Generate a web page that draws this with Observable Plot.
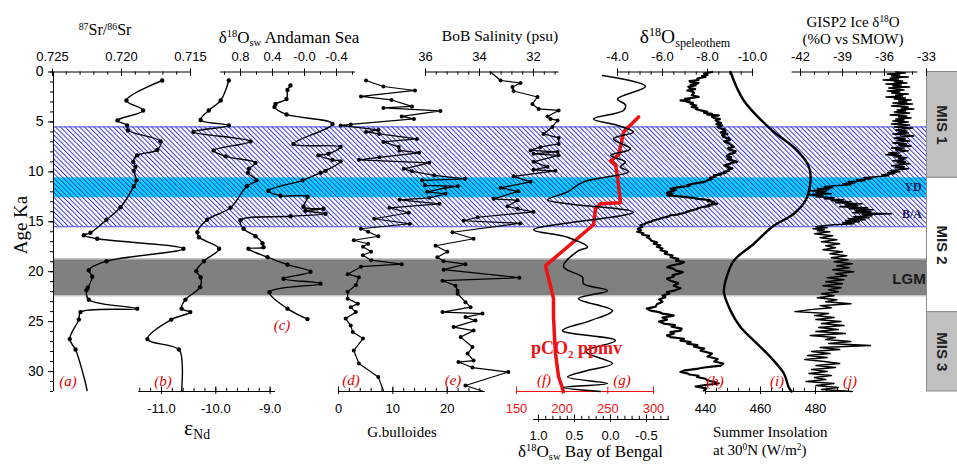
<!DOCTYPE html>
<html><head><meta charset="utf-8">
<script src="https://cdn.jsdelivr.net/npm/d3@7"></script>
<script src="https://cdn.jsdelivr.net/npm/@observablehq/plot@0.6"></script>
<style>
html,body{margin:0;padding:0;background:#fff;}
#wrap{position:relative;width:957px;height:466px;overflow:hidden;background:#fff;}
#wrap > svg{position:absolute;left:0;top:0;}
.t{position:absolute;white-space:nowrap;font-family:"Liberation Serif","Times New Roman",serif;color:#000;line-height:1;}
.t sup{font-size:0.62em;vertical-align:0;position:relative;top:-0.55em;}
.t sub{font-size:0.62em;vertical-align:0;position:relative;top:0.32em;}
.pl{color:#e00000;font-style:italic;}
</style></head><body>
<div id="wrap">
<svg width="0" height="0" style="position:absolute"><defs>
<pattern id="hatch" patternUnits="userSpaceOnUse" width="3.4" height="3.4" patternTransform="rotate(-45)"><rect x="0" y="0" width="1" height="3.4" fill="#3838d0"/></pattern>
</defs></svg>
</div>
<script>
// ---------- DATA ----------
const hatchBand = [5.5, 15.5];
const ydBand = [10.6, 12.6];
const lgmBand = [18.7, 22.4];
const misName = ["MIS 1", "MIS 2", "MIS 3"];
const misTop = [0, 10.6, 24.05];
const misBot = [10.6, 24.05, 32];
const misFill = ["#c0c0c0", "#ffffff", "#c0c0c0"];
const yMajor = [0, 5, 10, 15, 20, 25, 30];

// (a) 87Sr/86Sr
const srAge = [0.85,2.85,3.85,4.85,5.35,5.85,6.95,7.8,8.35,9.0,9.5,9.9,10.85,11.45,13.55,14.8,16.1,16.35,16.7,17.7,18.95,19.85,20.5,21.6,21.85,22.8,23.7,24.05,24.8,26.75,27.8,30.5,31.9];
const srVal = [0.71705,0.71964,0.71843,0.72029,0.71959,0.71954,0.71717,0.71741,0.71886,0.71915,0.71899,0.71911,0.71891,0.71911,0.72007,0.72109,0.72225,0.72273,0.72176,0.71551,0.72109,0.72237,0.72212,0.72244,0.72254,0.72237,0.71886,0.72297,0.72309,0.72375,0.72333,0.72273,0.72249];
const srTicks = [0.725, 0.720, 0.715];

// (b) eNd
const ndAge = [0.85,2.85,3.85,4.8,5.35,6.0,6.95,7.85,8.45,9.1,9.7,10.1,10.85,11.45,13.6,14.8,16.05,16.55,17.7,18.95,19.95,20.55,21.55,22.8,23.7,24.05,24.8,26.75,27.8,29.2,32];
const ndVal = [-9.76,-9.91,-10.13,-10.28,-9.76,-10.41,-9.36,-10.04,-9.82,-9.27,-9.39,-9.41,-9.25,-9.43,-9.73,-10.16,-10.34,-10.31,-9.94,-10.22,-10.36,-10.28,-10.29,-10.56,-10.63,-10.47,-10.82,-11.26,-10.68,-10.62,-10.63];
const ndTicks = [-11, -10, -9];

// (c) d18Osw Andaman Sea
const cAge = [1.35,1.8,2.7,3.2,3.5,4.25,5.2,7.2,7.5,8.2,8.35,8.8,8.95,9.9,10.1,10.85,11.9,12.4,12.5,13.5,13.7,13.9,14.2,14.45,14.85,15.7,16.45,17.15,17.55,17.7,18.55,19.3,20.0,20.7,21.2,22.05,23.7,24.75];
const cVal = [0.175,0.2125,0.225,0.3625,0.375,0.225,-0.35,0.1375,-0.45,-0.3,-0.175,-0.35,-0.45,-0.2625,-0.2,0.025,0.45,0.3,-0.0375,0.0125,-0.2375,-0.0125,-0.2625,0.175,0.8,0.7625,0.6125,0.525,0.5125,0.7,0.4625,0.2125,-0.075,0.2625,-0.2,0.4375,0.2125,-0.0375];
const cTicks = [0.8, 0.4, 0.0, -0.4];
const cTickLabels = ["0.8", "0.4", "-0.0", "-0.4"];

// (d) G.bulloides
const dAge = [0.85,1.45,1.85,2.45,2.8,3.45,3.6,3.9,4.45,4.7,5.25,5.35,5.8,6.0,6.2,6.7,7.0,7.5,7.85,8.1,8.55,8.8,9.1,9.7,9.95,10.35,10.7,10.85,11.35,11.45,11.6,12.0,12.2,12.6,12.8,13.2,13.6,14.1,14.7,15.2,15.7,16.0,16.45,16.85,17.2,17.5,18.0,18.35,18.85,19.25,19.5,20.25,20.55,21.35,22.0,22.7,23.2,23.55,24.05,24.7,25.4,26.05,26.7,27.9,29.2,30.55,31.9];
const dVal = [5.07,8.26,14.07,4.13,9.76,13.51,8.26,18.76,11.63,13.88,2.25,0.4,7.32,5.07,7.50,14.45,8.26,11.07,11.26,14.82,7.50,3.75,16.70,12.01,13.51,17.64,23.26,15.38,15.95,21.95,19.70,16.32,19.70,16.70,11.26,18.57,9.38,12.95,6.57,13.13,4.13,5.44,7.32,2.81,5.44,4.50,6.00,4.50,6.00,11.63,4.13,1.69,3.75,3.19,1.69,1.69,3.56,2.25,3.19,1.31,2.25,2.63,4.50,2.81,3.75,7.32,8.26];
const dTicks = [0, 10, 20];

// (e) BoB salinity
const eAge = [0,0.85,1.1,1.5,1.9,2.5,3.2,3.7,3.85,4.45,4.7,4.85,5.5,6.2,6.6,7.2,7.5,7.85,8.0,8.2,8.35,9.0,9.5,9.8,9.9,10.45,11.0,11.6,11.95,12.7,12.85,13.45,13.7,14.0,14.55,14.9,15.15,16.05,16.7,17.4,18.0,18.55,18.95,19.25,19.8,20.6,20.9,21.4,21.9,22.2,23.05,23.55,24.05,24.2,24.55,24.9,25.55,25.9,26.55,27.55,28.2,28.9,29.05,29.6,30.05,31.4,32];
const eVal = [33.59,33.22,32.48,32.78,32.74,31.85,32.04,31.81,31.07,31.48,31.37,31.11,31.30,31.63,31.07,31.07,31.74,32.11,31.11,32.0,31.07,32.0,31.48,32.0,31.19,32.74,32.11,33.22,32.56,33.48,32.59,32.96,32.59,32.0,34.07,34.59,32.48,35.0,34.22,35.63,35.19,35.56,35.33,34.52,35.33,32.52,35.37,34.89,34.81,34.81,34.52,34.33,35.37,33.89,34.52,34.15,34.96,34.22,34.70,34.26,34.44,34.22,34.78,34.26,32.93,34.52,33.85];
const eTicks = [36, 34, 32];

// (f) pCO2 ppmv
const co2Age = [4.5,6.0,7.0,8.3,8.9,9.3,10.5,13.1,13.2,13.7,15.3,19.4,22.7,24.4,26.5,28.2,30.5,32];
const co2Val = [283.6,267.2,265.0,261.7,253.0,258.4,260.6,263.9,242.0,236.5,234.3,181.8,190.5,190.5,191.6,192.7,196.0,201.5];
const co2Ticks = [150, 200, 250, 300];

// (g) d18Osw Bay of Bengal
const gAge = [0.35,1.45,2.7,3.3,3.85,4.7,5.35,6.0,6.7,7.7,8.35,9.0,9.5,10.0,11.0,12.0,12.8,13.2,14.05,15.8,16.55,17.55,17.9,19.5,20.55,21.2,21.9,22.7,23.9,24.9,25.9,26.9,28.0,29.2,29.9,30.55,31.2,31.6,32];
const gVal = [0.111,-0.486,-0.097,-0.208,-0.181,0.236,-0.097,-0.319,-0.042,-0.278,0.0,-0.208,-0.139,-0.25,0.375,0.597,0.875,0.597,-0.319,1.069,0.597,0.319,0.444,0.653,0.389,0.375,0.042,0.444,-0.028,0.278,0.667,-0.069,0.347,-0.028,0.319,0.597,0.042,0.653,0.139];
const gTicks = [1.0, 0.5, 0.0, -0.5];

// (h) d18O speleothem
const hAge = [0,0.15,0.3,0.4,0.5,0.65,0.8,0.9,1.0,1.1,1.2,1.28,1.35,1.48,1.6,1.72,1.85,1.98,2.1,2.3,2.5,2.6,2.7,2.78,2.85,2.92,3.0,3.1,3.2,3.35,3.5,3.6,3.7,3.85,4.0,4.1,4.2,4.28,4.35,4.48,4.6,4.72,4.85,4.98,5.1,5.22,5.35,5.48,5.6,5.75,5.9,6.05,6.2,6.35,6.5,6.65,6.8,6.95,7.1,7.3,7.5,7.65,7.8,7.95,8.1,8.25,8.4,8.55,8.7,8.85,9.0,9.1,9.2,9.35,9.5,9.65,9.8,9.9,10.0,10.1,10.2,10.28,10.35,10.48,10.6,10.72,10.85,10.98,11.1,11.22,11.35,11.42,11.5,11.6,11.7,11.8,11.9,12.0,12.1,12.22,12.35,12.42,12.5,12.6,12.7,12.78,12.85,12.92,13.0,13.1,13.2,13.28,13.35,13.42,13.5,13.62,13.75,13.88,14.0,14.1,14.2,14.28,14.35,14.48,14.6,14.72,14.85,14.98,15.1,15.22,15.35,15.52,15.7,15.85,16.0,16.15,16.3,16.42,16.55,16.72,16.9,17.05,17.2,17.35,17.5,17.68,17.85,18.02,18.2,18.38,18.55,18.72,18.9,19.05,19.2,19.38,19.55,19.72,19.9,20.05,20.2,20.35,20.5,20.7,20.9,21.15,21.4,21.65,21.9,22.05,22.2,22.38,22.55,22.78,23.0,23.25,23.5,23.7,23.9,24.05,24.2,24.3,24.4,24.6,24.8,25.0,25.2,25.35,25.5,25.7,25.9,26.05,26.2,26.38,26.55,26.72,26.9,27.05,27.2,27.35,27.5,27.7,27.9,28.2,28.5,28.75,29.0,29.2,29.4,29.55,29.7,29.88,30.05,30.18,30.3,30.42,30.55,30.72,30.9,31.05,31.2,31.35,31.5,31.7,31.9];
const hVal = [-8.21,-7.85,-8.0,-7.75,-7.91,-7.55,-7.6,-7.2,-7.24,-7.6,-7.5,-7.25,-7.47,-7.15,-7.2,-7.45,-7.10,-7.35,-7.4,-7.3,-7.61,-7.25,-7.0,-7.2,-6.80,-7.05,-7.1,-7.35,-7.24,-7.5,-7.3,-7.55,-7.47,-7.7,-7.99,-7.85,-8.2,-8.0,-8.50,-8.2,-8.3,-8.55,-8.36,-8.45,-8.6,-8.4,-8.65,-8.45,-8.5,-8.75,-8.8,-8.6,-8.88,-8.65,-8.7,-8.95,-9.0,-8.75,-8.9,-9.05,-9.17,-8.9,-9.0,-9.25,-9.2,-8.95,-8.85,-9.05,-8.88,-9.1,-9.32,-9.05,-9.0,-8.75,-8.88,-9.1,-8.9,-8.95,-8.72,-8.8,-8.5,-8.6,-8.28,-8.35,-8.1,-8.2,-7.99,-7.9,-7.6,-7.3,-7.10,-7.2,-6.8,-6.55,-6.36,-6.6,-6.5,-6.3,-6.2,-6.45,-6.21,-6.6,-6.95,-7.35,-7.6,-7.9,-8.13,-8.0,-8.3,-8.2,-8.43,-8.15,-8.0,-8.1,-7.84,-7.6,-7.5,-7.25,-7.10,-7.0,-6.8,-6.65,-6.36,-6.25,-6.0,-5.85,-5.61,-5.5,-5.3,-5.2,-5.02,-5.1,-4.9,-5.05,-4.88,-5.15,-5.1,-5.4,-5.32,-5.45,-5.5,-5.75,-5.61,-5.9,-5.75,-6.0,-5.91,-6.2,-6.1,-6.45,-6.36,-6.7,-6.6,-6.95,-6.80,-6.4,-6.21,-6.5,-6.6,-6.9,-6.72,-6.45,-6.5,-6.2,-6.36,-6.7,-6.5,-6.8,-6.50,-6.2,-6.3,-6.0,-6.13,-5.85,-6.0,-5.75,-5.7,-5.3,-5.47,-5.85,-6.0,-6.3,-6.50,-6.0,-6.2,-5.85,-6.06,-6.55,-6.4,-6.85,-6.80,-6.35,-6.5,-6.2,-6.36,-6.95,-6.8,-7.25,-7.10,-7.55,-7.4,-7.85,-7.69,-8.2,-8.0,-8.45,-8.3,-8.7,-8.58,-8.0,-7.6,-7.0,-6.80,-7.1,-7.2,-7.6,-7.54,-7.9,-8.0,-8.3,-8.50,-7.9,-7.47,-7.95,-7.84];
const hTicks = [-4, -6, -8, -10];

// (i) Summer insolation 30N
const iAge = [0,2.85,5.8,7.85,9.5,10.85,12.85,14.2,15.5,17.2,18.9,20.9,22.05,23.9,25.55,26.9,28.55,30.2,31.6,32];
const iVal = [449.1,453.9,464.0,473.3,477.6,478.2,476.4,472.1,464.3,457.6,450.3,447.3,446.7,449.1,452.7,457.6,463.6,468.5,470.3,471.3];
const iTicks = [440, 460, 480];

// (j) GISP2 ice d18O
const jAge = [0,0.1,0.2,0.3,0.4,0.5,0.6,0.7,0.8,0.9,1.0,1.1,1.2,1.3,1.4,1.5,1.6,1.7,1.8,1.9,2.0,2.1,2.2,2.3,2.4,2.5,2.6,2.7,2.8,2.9,3.0,3.1,3.2,3.3,3.4,3.5,3.6,3.7,3.8,3.9,4.0,4.1,4.2,4.3,4.4,4.5,4.6,4.7,4.8,4.9,5.0,5.1,5.2,5.3,5.4,5.5,5.6,5.7,5.8,5.9,6.0,6.1,6.2,6.3,6.4,6.5,6.6,6.7,6.8,6.9,7.0,7.1,7.2,7.3,7.4,7.5,7.6,7.7,7.8,7.9,8.0,8.1,8.2,8.3,8.4,8.5,8.6,8.7,8.8,8.9,9.0,9.1,9.2,9.3,9.4,9.5,9.6,9.7,9.8,9.9,10.0,10.1,10.2,10.3,10.4,10.5,10.6,10.7,10.8,10.9,11.0,11.1,11.2,11.3,11.4,11.5,11.6,11.7,11.8,11.9,12.0,12.1,12.2,12.3,12.4,12.5,12.6,12.7,12.8,12.9,13.0,13.1,13.2,13.3,13.4,13.5,13.6,13.7,13.8,13.9,14.0,14.1,14.2,14.3,14.4,14.5,14.6,14.7,14.8,14.9,15.0,15.1,15.2,15.3,15.4,15.5,15.6,15.7,15.8,15.9,16.0,16.2,16.4,16.6,16.8,17.0,17.2,17.4,17.6,17.8,18.0,18.2,18.4,18.6,18.8,19.0,19.2,19.4,19.6,19.8,20.0,20.2,20.4,20.6,20.8,21.0,21.2,21.4,21.6,21.8,22.0,22.2,22.4,22.6,22.8,23.0,23.2,23.4,23.6,23.8,24.0,24.2,24.4,24.6,24.8,25.0,25.2,25.4,25.6,25.8,26.0,26.2,26.4,26.6,26.8,27.0,27.2,27.4,27.6,27.8,28.0,28.2,28.4,28.6,28.8,29.0,29.2,29.4,29.6,29.8,30.0,30.2,30.4,30.6,30.8,31.0,31.2,31.4,31.6,31.8,32.0];
const jVal = [-35.2,-34.5,-35.8,-34.9,-35.5,-34.3,-35.6,-35.0,-36.1,-34.7,
-35.3,-34.4,-35.9,-34.8,-35.4,-34.2,-35.7,-35.1,-34.6,-35.8,
-34.9,-35.5,-34.3,-35.2,-34.7,-35.9,-34.5,-35.3,-34.1,-35.0,
-34.4,-35.4,-34.0,-34.9,-35.5,-34.3,-34.8,-33.9,-35.1,-34.5,
-35.3,-34.2,-34.9,-35.6,-34.4,-35.0,-34.1,-35.2,-34.6,-35.4,
-34.3,-34.9,-35.5,-34.2,-34.8,-35.3,-34.0,-34.7,-35.2,-34.4,
-35.0,-34.3,-35.4,-34.6,-33.9,-34.8,-35.3,-34.5,-35.1,-34.2,
-34.9,-35.4,-34.4,-35.0,-34.1,-34.8,-35.5,-34.6,-35.2,-34.3,
-34.9,-35.7,-35.0,-35.9,-34.8,-35.3,-34.4,-35.0,-34.6,-35.4,
-34.5,-35.1,-34.2,-34.9,-35.5,-34.6,-35.2,-34.3,-35.0,-35.6,
-34.9,-35.8,-35.3,-36.2,-35.7,-36.6,-37.5,-36.9,-38.0,-37.4,
-38.6,-38.1,-39.0,-38.4,-39.6,-40.3,-39.7,-40.8,-40.0,-41.3,
-40.2,-40.9,-39.8,-41.5,-40.4,-40.9,-39.6,-40.3,-38.9,-39.8,
-38.4,-39.5,-37.6,-38.8,-37.9,-39.2,-37.2,-38.5,-36.8,-38.1,
-37.0,-38.3,-35.5,-37.6,-36.9,-38.2,-37.1,-38.6,-37.4,-38.8,
-37.8,-39.0,-38.2,-39.6,-40.4,-40.9,-40.1,-41.1,-40.3,-40.8,
-39.9,-41.0,-39.7,-40.6,-39.4,-40.5,-39.2,-40.2,-39.5,-40.4,
-39.0,-39.9,-38.7,-39.8,-38.6,-39.6,-38.3,-39.4,-38.5,-39.7,
-38.2,-39.5,-38.7,-40.1,-38.9,-40.2,-39.0,-40.4,-39.1,-40.0,
-39.3,-40.5,-39.6,-40.8,-39.4,-40.2,-38.4,-40.6,-39.8,-41.3,
-42.4,-40.0,-41.0,-39.6,-40.9,-39.1,-40.5,-38.9,-40.7,-39.3,
-40.9,-38.8,-41.3,-39.5,-40.2,-38.4,-40.0,-37.0,-40.6,-39.2,
-41.2,-39.9,-41.5,-40.1,-41.7,-40.3,-39.2,-40.9,-39.5,-41.2,
-40.1,-41.4,-39.8,-41.0,-40.2,-41.6,-39.6,-40.9,-39.3,-40.5,
-38.3];
const jTicks = [-42, -39, -36, -33];

// ---------- DRAWING ----------
const SANS = "Liberation Sans, Arial, Helvetica, sans-serif";
const wrap = document.getElementById("wrap");
const YS = {domain: [0, 32], range: [71.5, 391], axis: null};

function mount(svg) {
  svg.style.position = "absolute"; svg.style.left = "0px"; svg.style.top = "0px";
  svg.style.background = "transparent"; svg.style.overflow = "visible";
  wrap.appendChild(svg);
}
function layer(xd, xr, marks) {
  mount(Plot.plot({width: 957, height: 466, margin: 0, x: {domain: xd, range: xr, axis: null}, y: {...YS}, marks}));
}
function rows(ages, vals) { return ages.map((a, i) => ({age: a, v: vals[i], i})); }
function axis(o) {
  const {at, d0, d1, major, minor = [], fmt, top = false, color = "#000", dy = 0, labelDy} = o;
  const inward = top ? 1 : -1;
  const ly = labelDy ?? (top ? -15 : 17);
  return [
    Plot.ruleY([at], {x1: () => d0, x2: () => d1, stroke: color, strokeWidth: 1, dy}),
    Plot.ruleX(minor, {x: d => d, y1: () => at, y2: () => at + inward * 0.32, stroke: color, strokeWidth: 1, dy}),
    Plot.ruleX(major, {x: d => d, y1: () => at - inward * 0.3, y2: () => at + inward * 0.45, stroke: color, strokeWidth: 1, dy}),
    Plot.text(major, {x: d => d, y: () => at, text: fmt, dy: dy + ly, fill: color, fontSize: 13, fontFamily: SANS})
  ];
}
function series(data, {curve = "linear", sw = 1.4, stroke = "#000", dots = null, r = 2.2} = {}) {
  const m = [Plot.line(data, {x: "v", y: "age", curve, stroke, strokeWidth: sw, strokeLinejoin: "round"})];
  if (dots) m.push(Plot.dot(data.filter(dots), {x: "v", y: "age", r, fill: stroke, stroke: "none"}));
  return m;
}
const steps = (a, b, s) => d3.range(0, Math.round((b - a) / s) + 1).map(k => +(a + k * s).toFixed(4));

// background: bands + age axis
mount(Plot.plot({
  width: 957, height: 466, marginLeft: 53, marginRight: 31, marginTop: 0, marginBottom: 0,
  x: {domain: [0, 1], axis: null}, y: {...YS},
  marks: [
    Plot.rect([ydBand], {x1: () => 0, x2: () => 1, y1: d => d[0], y2: d => d[1], fill: "#00dcff"}),
    Plot.rect([hatchBand], {x1: () => 0, x2: () => 1, y1: d => d[0], y2: d => d[1], fill: "url(#hatch)"}),
    Plot.ruleY(hatchBand, {stroke: "#4a4ae0", strokeWidth: 1}),
    Plot.rect([lgmBand], {x1: () => 0, x2: () => 1, y1: d => d[0], y2: d => d[1], fill: "#808080"}),
    Plot.ruleY(lgmBand, {stroke: "#c8c8c8", strokeWidth: 1.5}),
    Plot.ruleX([0], {y1: () => 0, y2: () => 32, stroke: "#000"}),
    Plot.axisY({anchor: "left", ticks: steps(0, 32, 1), tickSize: 3, tickFormat: () => "", label: null}),
    Plot.axisY({anchor: "left", ticks: yMajor, tickSize: 5, tickPadding: 5, fontSize: 14, fontFamily: SANS, label: null})
  ]
}));

// MIS boxes
const mis = misName.map((n, i) => ({n, y1: misTop[i], y2: misBot[i], f: misFill[i]}));
mount(Plot.plot({
  width: 957, height: 466, marginLeft: 926.5, marginRight: 0, marginTop: 0, marginBottom: 0,
  x: {domain: [0, 1], axis: null}, y: {...YS}, color: {type: "identity"},
  marks: [
    Plot.rect(mis, {x1: () => 0, x2: () => 1.1, y1: "y1", y2: "y2", fill: "f", stroke: "#8c8c8c"}),
    Plot.text(mis, {x: () => 0.5, y: d => (d.y1 + d.y2) / 2, text: "n", rotate: 90, fontSize: 15, fontWeight: "bold", fontFamily: SANS, fill: "#222"})
  ]
}));

const f1 = d => d.toFixed(1), f3 = d => d.toFixed(3), f0 = d => String(d);

// (a)
layer([0.725, 0.715], [52, 190], [
  ...axis({at: 0, top: true, d0: 0.725, d1: 0.715, major: srTicks, minor: steps(0.715, 0.725, 0.001), fmt: f3}),
  ...series(rows(srAge, srVal), {curve: "catmull-rom", dots: d => d.i < srAge.length - 2})
]);
// (b)
layer([-11, -9], [161, 269.6], [
  ...axis({at: 32, d0: -11.42, d1: -8.9, major: ndTicks, minor: steps(-11.4, -9.0, 0.2), fmt: f1}),
  ...series(rows(ndAge, ndVal), {curve: "catmull-rom", dots: d => d.i < ndAge.length - 2})
]);
// (c)
layer([0.8, -0.4], [240, 336], [
  ...axis({at: 0, top: true, d0: 1.05, d1: -0.64, major: cTicks, minor: [1.0, 0.6, 0.2, -0.2, -0.6], fmt: (d, i) => cTickLabels[i]}),
  ...series(rows(cAge, cVal), {curve: "catmull-rom", dots: d => true})
]);
// (d)
layer([0, 20], [338, 446.7], [
  ...axis({at: 32, d0: 0, d1: 27, major: dTicks, minor: steps(0, 26, 2), fmt: f0}),
  ...series(rows(dAge, dVal), {sw: 1.2, dots: d => d.i < dAge.length - 1, r: 2})
]);
// (e)
layer([36, 32], [425, 533], [
  ...axis({at: 0, top: true, d0: 36, d1: 31.05, major: eTicks, minor: steps(31.2, 36, 0.4), fmt: f0}),
  ...series(rows(eAge, eVal), {sw: 1.2, dots: d => d.i > 0 && d.i < eAge.length - 1, r: 2})
]);
// (f) pCO2
layer([150, 300], [516, 653], [
  ...axis({at: 32, d0: 150, d1: 300, major: co2Ticks, minor: [], fmt: f0, color: "#ee1111"}),
  ...series(rows(co2Age, co2Val), {sw: 3.5, stroke: "#ee1111"})
]);
// (g)
layer([1.0, -0.5], [538, 646], [
  ...axis({at: 32, dy: 28, labelDy: 16, d0: 1.07, d1: -0.82, major: gTicks, minor: steps(-0.8, 1.0, 0.1), fmt: f1}),
  ...series(rows(gAge, gVal), {curve: "catmull-rom", sw: 1.5})
]);
// (h)
layer([-4, -10], [617, 752], [
  ...axis({at: 0, top: true, d0: -4, d1: -10.06, major: hTicks, minor: steps(-10, -4, 0.5), fmt: f1}),
  ...series(rows(hAge, hVal), {sw: 2.2})
]);
// (i)
layer([440, 480], [705, 815], [
  ...axis({at: 32, d0: 440, d1: 493, major: iTicks, minor: steps(440, 492, 4), fmt: f0}),
  ...series(rows(iAge, iVal), {curve: "catmull-rom", sw: 2.4})
]);
// (j)
layer([-42, -33], [800, 926], [
  ...axis({at: 0, top: true, d0: -42.6, d1: -33.6, major: jTicks, minor: steps(-42, -34, 1), fmt: f0}),
  ...series(rows(jAge, jVal), {sw: 1.5})
]);

// ---------- TEXT ----------
function addText(html, x, y, size, anchor = "middle", cls = "", extra = {}, rot = 0) {
  const d = document.createElement("div");
  d.className = "t " + cls; d.innerHTML = html;
  d.style.left = x + "px"; d.style.top = y + "px"; d.style.fontSize = size + "px";
  Object.assign(d.style, extra);
  const tx = anchor === "middle" ? "-50%" : anchor === "end" ? "-100%" : "0";
  d.style.transform = `translate(${tx},-50%)` + (rot ? ` rotate(${rot}deg)` : "");
  wrap.appendChild(d);
}
addText('<sup>87</sup>Sr/<sup>86</sup>Sr', 105, 30, 16);
addText('δ<sup>18</sup>O<sub>sw</sub> Andaman Sea', 289, 37, 17);
addText('BoB Salinity (psu)', 500, 36, 15.5);
addText('δ<sup>18</sup>O<sub>speleothem</sub>', 685, 37, 19.5);
addText('GISP2 Ice δ<sup>18</sup>O', 853, 22, 15);
addText('(%O vs SMOW)', 853, 39, 15);
addText('ε<sub>Nd</sub>', 197, 428, 22);
addText('G.bulloides', 402, 432, 15);
addText('δ<sup>18</sup>O<sub>sw</sub> Bay of Bengal', 518, 451, 17, "start");
addText('Summer Insolation', 713, 432, 15, "start");
addText('at 30<sup>0</sup>N (W/m<sup>2</sup>)', 713, 450, 15, "start");
addText('Age Ka', 20, 225, 19, "middle", "", {}, -90);
const panelLab = ["(a)", "(b)", "(c)", "(d)", "(e)", "(f)", "(g)", "(h)", "(i)", "(j)"];
const panelX = [68, 163, 282, 351, 453, 544, 622, 715, 777, 850];
const panelY = [381, 381, 325, 380, 380, 380, 380, 381, 381, 381];
panelLab.forEach((p, i) => addText(p, panelX[i], panelY[i], 15, "middle", "pl"));
addText('pCO<sub>2</sub> ppmv', 531, 348, 18, "start", "", {color: "#ee1111", fontWeight: "bold"});
addText('YD', 913, 187, 12, "middle", "", {fontWeight: "bold", color: "#1c1c5a"});
addText('B/A', 912, 214, 12, "middle", "", {fontWeight: "bold", color: "#1c1c5a"});
addText('LGM', 909, 278, 15, "middle", "", {fontFamily: SANS, fontWeight: "bold", color: "#1a1a1a"});
</script>
</body></html>
